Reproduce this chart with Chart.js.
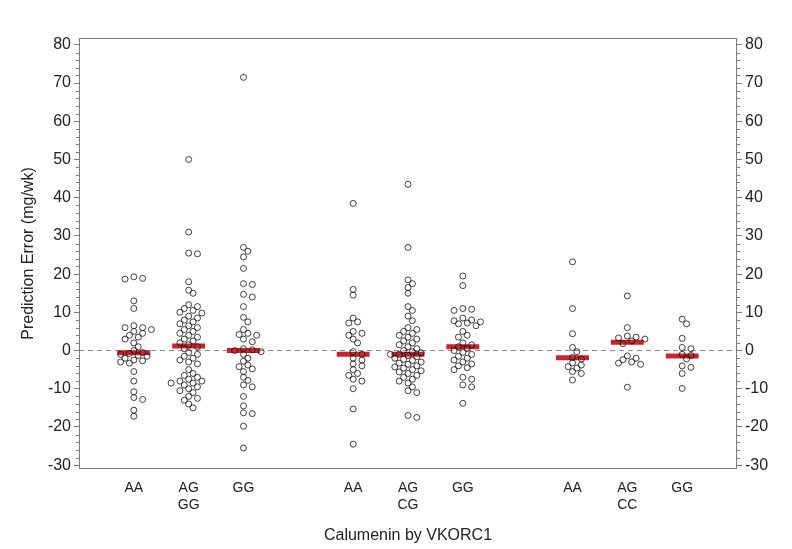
<!DOCTYPE html>
<html>
    <head>
        <meta charset="utf-8">
        <title>Prediction Error by Calumenin and VKORC1</title>
        <script src="https://cdn.jsdelivr.net/npm/chart.js@4.4.0/dist/chart.umd.min.js"></script>
        <style>
            html, body {
                margin: 0;
                padding: 0;
                background: #fff;
            }
            #container {
                width: 792px;
                height: 549px;
            }
        </style>
    </head>
    <body>
        <div id="container">
            <canvas id="vis"></canvas>
        </div>
        <script>
            // group positions on the x axis (gaps between VKORC1 blocks)
            const groupX = [1, 2, 3, 5, 6, 7, 9, 10, 11];
            const tickLabels = [['AA'], ['AG', 'GG'], ['GG'], ['AA'], ['AG', 'CG'], ['GG'], ['AA'], ['AG', 'CC'], ['GG']];
            const yTicks = [-30, -20, -10, 0, 10, 20, 30, 40, 50, 60, 70, 80];

            // prediction errors (mg/wk)
            const aaGG = [19.3, 18.9, 18.7, 13.0, 11.0, 6.5, 6.0, 6.0, 5.5, 5.0, 4.5, 4.0, 3.5, 3.0, 2.0, 1.0, 0.0, -0.5, -0.8, -1.0, -1.3, -1.5, -2.0, -2.5, -2.7, -3.0, -3.3, -5.5, -8.0, -10.8, -12.3, -12.8, -15.6, -17.2];
            const agGG = [50.0, 31.0, 25.5, 25.3, 18.0, 15.8, 15.0, 12.0, 11.5, 11.0, 10.5, 10.0, 9.8, 9.0, 8.5, 8.0, 7.5, 7.0, 6.5, 6.0, 5.5, 5.0, 4.5, 4.0, 3.5, 3.0, 2.5, 2.0, 1.5, 1.0, 0.5, -0.5, -1.0, -1.5, -2.0, -2.5, -3.0, -3.5, -5.0, -6.0, -6.5, -7.0, -7.5, -8.0, -8.0, -8.5, -8.5, -9.0, -9.5, -10.0, -10.5, -11.0, -12.0, -12.5, -13.0, -14.0, -15.0];
            const ggGG = [71.5, 27.0, 26.0, 24.5, 21.5, 17.5, 17.3, 14.7, 14.0, 11.5, 8.7, 7.5, 5.5, 4.5, 4.2, 4.0, 3.0, 2.3, 0.5, 0.2, 0.0, -0.3, -1.0, -2.0, -2.8, -3.8, -4.2, -4.8, -5.5, -7.0, -7.8, -9.0, -9.5, -12.0, -14.5, -16.3, -16.5, -19.8, -25.5];
            const aaCG = [38.5, 16.0, 14.5, 8.5, 7.5, 7.2, 5.0, 4.5, 4.0, 3.0, 2.0, -0.3, -1.0, -2.0, -2.5, -3.5, -4.0, -5.0, -6.0, -6.5, -7.5, -8.0, -10.0, -15.3, -24.5];
            const agCG = [43.5, 27.0, 18.5, 17.5, 16.5, 15.0, 11.5, 10.5, 9.0, 7.8, 6.0, 5.5, 5.0, 4.5, 4.0, 3.5, 3.0, 2.5, 2.0, 1.5, 1.0, 0.5, 0.0, -0.3, -0.6, -1.0, -1.0, -1.3, -1.6, -2.0, -2.3, -2.6, -3.0, -3.3, -3.6, -4.0, -4.3, -4.6, -5.0, -5.3, -5.6, -6.0, -6.5, -7.0, -7.5, -8.0, -8.5, -9.5, -10.5, -11.0, -17.0, -17.5];
            const ggCG = [19.5, 17.0, 11.0, 10.8, 10.5, 8.5, 8.0, 7.8, 7.5, 7.2, 7.0, 6.5, 5.0, 4.0, 3.5, 2.0, 1.5, 1.0, 0.5, 0.0, -0.5, -1.0, -1.5, -2.0, -2.5, -3.0, -3.5, -4.0, -4.5, -5.0, -7.0, -7.5, -9.0, -9.5, -13.8];
            const aaCC = [23.2, 11.0, 4.4, 0.8, -0.3, -1.8, -2.2, -3.2, -3.8, -4.2, -4.6, -5.5, -6.0, -7.7];
            const agCC = [14.3, 6.0, 3.8, 3.5, 3.3, 3.0, 2.5, 1.8, -1.4, -2.0, -2.4, -3.0, -3.3, -3.6, -9.6];
            const ggCC = [8.2, 7.0, 3.2, 0.8, 0.5, -1.0, -1.3, -2.2, -4.0, -4.4, -6.0, -9.9];
            const medians = [-0.6, 1.2, 0.0, -1.0, -1.0, 1.0, -1.9, 2.2, -1.4];

            const groups = [aaGG, agGG, ggGG, aaCG, agCG, ggCG, aaCC, agCC, ggCC];

            const Y_MIN = -31, Y_MAX = 81.8;
            const PX_X = 658 / 12;          // pixels per x unit (approx.)
            const PX_Y = 431 / (Y_MAX - Y_MIN);

            // simple beeswarm: nudge points sideways so circles do not sit on top of each other
            function swarm(vals, cx) {
                const placed = [];
                return vals.map(v => {
                    const py = v * PX_Y;
                    let off = 0;
                    for (let k = 0; k < 40; k++) {
                        const cand = k === 0 ? 0 : (k % 2 ? 1 : -1) * Math.ceil(k / 2) * 4.4;
                        if (placed.every(p => Math.hypot(p.x - cand, p.y - py) >= 5.2)) {
                            off = cand;
                            break;
                        }
                    }
                    placed.push({ x: off, y: py });
                    return { x: cx + off / PX_X, y: v };
                });
            }

            const points = groups.flatMap((g, i) => swarm(g, groupX[i]));

            const medianLine = [];
            medians.forEach((m, i) => {
                medianLine.push({ x: groupX[i] - 0.3, y: m });
                medianLine.push({ x: groupX[i] + 0.3, y: m });
                medianLine.push({ x: groupX[i] + 0.3, y: null });
            });

            const fontFamily = "'Liberation Sans', Arial, sans-serif";

            // frame around the plot plus minor ticks on both y axes
            const framePlugin = {
                id: 'frame',
                afterDraw(chart) {
                    const { ctx, chartArea: a } = chart;
                    const y = chart.scales.y;
                    ctx.save();
                    ctx.strokeStyle = '#7a7a7a';
                    ctx.lineWidth = 1;
                    ctx.strokeRect(a.left + 0.5, a.top + 0.5, a.right - a.left - 1, a.bottom - a.top - 1);
                    ctx.beginPath();
                    for (let v = -30; v <= 80; v += 2) {
                        if (v % 10 === 0) continue;
                        const py = Math.round(y.getPixelForValue(v)) + 0.5;
                        ctx.moveTo(a.left - 3, py);
                        ctx.lineTo(a.left, py);
                        ctx.moveTo(a.right, py);
                        ctx.lineTo(a.right + 3, py);
                    }
                    ctx.stroke();
                    ctx.restore();
                }
            };

            const yAxis = (position, width, title) => ({
                type: 'linear',
                position,
                min: Y_MIN,
                max: Y_MAX,
                afterBuildTicks: (scale) => {
                    scale.ticks = yTicks.map(v => ({ value: v }));
                },
                afterFit: (scale) => {
                    scale.width = width;
                },
                ticks: {
                    color: '#222',
                    font: { family: fontFamily, size: 16 },
                    padding: 3
                },
                grid: {
                    drawOnChartArea: false,
                    tickLength: 5,
                    color: '#7a7a7a'
                },
                border: { display: false },
                title: {
                    display: !!title,
                    text: title,
                    color: '#222',
                    font: { family: fontFamily, size: 16 },
                    padding: { top: 19, bottom: 4 }
                }
            });

            new Chart(document.getElementById('vis'), {
                data: {
                    datasets: [
                        {
                            type: 'scatter',
                            data: points,
                            pointRadius: 3,
                            borderWidth: 0.8,
                            borderColor: '#111',
                            backgroundColor: 'rgba(0,0,0,0)',
                            order: 1
                        },
                        {
                            type: 'line',
                            data: medianLine,
                            borderColor: '#c9232b',
                            borderWidth: 5,
                            borderCapStyle: 'butt',
                            pointRadius: 0,
                            spanGaps: false,
                            order: 2
                        },
                        {
                            type: 'line',
                            data: [{ x: 0, y: 0 }, { x: 12, y: 0 }],
                            borderColor: '#8a8a8a',
                            borderWidth: 1,
                            borderDash: [5, 4],
                            pointRadius: 0,
                            order: 3
                        }
                    ]
                },
                options: {
                    responsive: true,
                    maintainAspectRatio: false,
                    animation: false,
                    layout: { padding: { top: 38, left: 0, right: 0, bottom: 0 } },
                    plugins: {
                        legend: { display: false },
                        tooltip: { enabled: false }
                    },
                    scales: {
                        x: {
                            type: 'linear',
                            min: 0,
                            max: 12,
                            afterBuildTicks: (scale) => {
                                scale.ticks = groupX.map(v => ({ value: v }));
                            },
                            afterFit: (scale) => {
                                scale.height = 80;
                            },
                            ticks: {
                                color: '#222',
                                font: { family: fontFamily, size: 14 },
                                padding: 3,
                                maxRotation: 0,
                                autoSkip: false,
                                callback: (value, index) => tickLabels[index]
                            },
                            grid: { display: false },
                            border: { display: false },
                            title: {
                                display: true,
                                text: 'Calumenin by VKORC1',
                                color: '#222',
                                font: { family: fontFamily, size: 16 },
                                padding: { top: 10 }
                            }
                        },
                        y: yAxis('left', 79, 'Prediction Error (mg/wk)'),
                        y2: yAxis('right', 55, '')
                    }
                },
                plugins: [framePlugin]
            });
        </script>
    </body>
</html>
